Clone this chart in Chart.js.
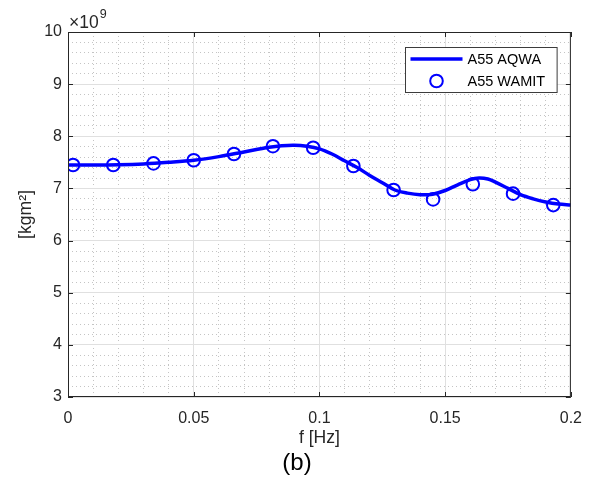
<!DOCTYPE html>
<html>
<head>
<meta charset="utf-8">
<script src="https://cdn.jsdelivr.net/npm/chart.js@4.4.0/dist/chart.umd.min.js"></script>
<style>
    html, body { margin: 0; padding: 0; background: #fff; }
    #wrap { width: 594px; height: 486px; }
</style>
</head>
<body>
<div id="wrap"><canvas id="a55Chart" width="594" height="486"></canvas></div>
<script>
// A55 added mass vs frequency, values in units of 1e9 kgm^2
const aqwaFreq = [0, 0.01, 0.02, 0.03, 0.04, 0.05, 0.06, 0.07, 0.08, 0.085, 0.09, 0.095, 0.1, 0.105, 0.11, 0.115, 0.12, 0.125, 0.13, 0.135, 0.14, 0.145, 0.15, 0.155, 0.16, 0.1635, 0.167, 0.17, 0.175, 0.18, 0.185, 0.19, 0.195, 0.2];
const aqwaA55 = [7.45, 7.45, 7.455, 7.47, 7.50, 7.54, 7.61, 7.70, 7.79, 7.82, 7.83, 7.81, 7.76, 7.66, 7.53, 7.40, 7.25, 7.11, 6.97, 6.91, 6.88, 6.89, 6.96, 7.07, 7.17, 7.20, 7.18, 7.12, 7.00, 6.88, 6.80, 6.74, 6.70, 6.68];

const wamitFreq = [0.002, 0.018, 0.034, 0.050, 0.066, 0.0815, 0.0975, 0.1135, 0.1295, 0.1452, 0.161, 0.177, 0.193];
const wamitA55 = [7.45, 7.45, 7.48, 7.54, 7.66, 7.81, 7.78, 7.43, 6.97, 6.79, 7.08, 6.90, 6.68];

const xTicks = [0, 0.05, 0.1, 0.15, 0.2];
const yTicks = [3, 4, 5, 6, 7, 8, 9, 10];
const yExponent = '9';

const seriesLabels = ['A55 AQWA', 'A55 WAMIT'];

const BLUE = '#0000ff';
const AXIS = '#262626';
const FONT = "'Liberation Sans', Arial, Helvetica, sans-serif";

function toPoints(xs, ys) {
    return xs.map((x, i) => ({ x: x, y: ys[i] }));
}

// box, inward tick marks, exponent label and legend, MATLAB style
const matlabDecor = {
    id: 'matlabDecor',
    afterDraw(chart) {
        const ctx = chart.ctx;
        const area = chart.chartArea;
        const xs = chart.scales.x;
        const ys = chart.scales.y;
        const tick = 5;

        ctx.save();
        ctx.strokeStyle = AXIS;
        ctx.lineWidth = 1;
        ctx.strokeRect(area.left + 0.5, area.top + 0.5, area.right - area.left - 1, area.bottom - area.top - 1);

        ctx.beginPath();
        xTicks.forEach(v => {
            const px = Math.round(xs.getPixelForValue(v)) + 0.5;
            ctx.moveTo(px, area.bottom); ctx.lineTo(px, area.bottom - tick);
            ctx.moveTo(px, area.top); ctx.lineTo(px, area.top + tick);
        });
        yTicks.forEach(v => {
            const py = Math.round(ys.getPixelForValue(v)) + 0.5;
            ctx.moveTo(area.left, py); ctx.lineTo(area.left + tick, py);
            ctx.moveTo(area.right, py); ctx.lineTo(area.right - tick, py);
        });
        ctx.stroke();

        // x10^9
        ctx.fillStyle = AXIS;
        ctx.textBaseline = 'alphabetic';
        ctx.textAlign = 'left';
        ctx.font = '17.5px ' + FONT;
        ctx.fillText('\u00d710', area.left + 1, area.top - 4);
        const w = ctx.measureText('\u00d710').width;
        ctx.font = '12.5px ' + FONT;
        ctx.fillText(yExponent, area.left + 2 + w, area.top - 14);

        // legend
        ctx.font = '14.5px ' + FONT;
        const textW = Math.max(...seriesLabels.map(s => ctx.measureText(s).width));
        const boxW = 62 + textW + 12;
        const boxH = 45;
        const bx = Math.round(area.right - 14 - boxW) + 0.5;
        const by = Math.round(area.top + 15) + 0.5;
        ctx.fillStyle = '#ffffff';
        ctx.fillRect(bx, by, boxW, boxH);
        ctx.strokeStyle = '#3c3c3c';
        ctx.lineWidth = 1;
        ctx.strokeRect(bx, by, boxW, boxH);

        const row1 = by + 11.5;
        const row2 = by + 33.5;
        ctx.strokeStyle = BLUE;
        ctx.lineWidth = 3.5;
        ctx.beginPath();
        ctx.moveTo(bx + 5, row1); ctx.lineTo(bx + 57, row1);
        ctx.stroke();
        ctx.lineWidth = 2;
        ctx.beginPath();
        ctx.arc(bx + 31, row2, 6.3, 0, Math.PI * 2);
        ctx.stroke();

        ctx.fillStyle = '#000';
        ctx.textBaseline = 'middle';
        ctx.fillText(seriesLabels[0], bx + 62, row1 + 0.5);
        ctx.fillText(seriesLabels[1], bx + 62, row2 + 0.5);
        ctx.restore();
    }
};

const ctx = document.getElementById('a55Chart').getContext('2d');
const a55Chart = new Chart(ctx, {
    type: 'scatter',
    data: {
        datasets: [{
            label: seriesLabels[0],
            data: toPoints(aqwaFreq, aqwaA55),
            showLine: true,
            borderColor: BLUE,
            borderWidth: 3.5,
            pointRadius: 0,
            tension: 0.35,
            order: 2
        }, {
            label: seriesLabels[1],
            data: toPoints(wamitFreq, wamitA55),
            showLine: false,
            pointRadius: 6.3,
            pointBorderWidth: 2,
            pointBorderColor: BLUE,
            pointBackgroundColor: 'rgba(0,0,0,0)',
            order: 1
        }]
    },
    options: {
        responsive: false,
        animation: false,
        layout: { padding: { top: 32, right: 0, left: 0, bottom: 0 } },
        plugins: {
            legend: { display: false },
            tooltip: { enabled: false },
            title: {
                display: true,
                position: 'bottom',
                text: '(b)',
                color: '#000',
                font: { family: FONT, size: 24, weight: 'normal' },
                padding: { top: 0, bottom: 8 }
            }
        },
        scales: {
            xMinor: {
                type: 'linear',
                position: 'bottom',
                min: 0, max: 0.2,
                ticks: { display: false, stepSize: 0.01 },
                grid: { color: '#c4c4c4', lineWidth: 1, drawTicks: false },
                border: { display: false, dash: [1, 3] },
                afterFit(scale) { scale.height = 0; }
            },
            yMinor: {
                type: 'linear',
                position: 'left',
                min: 3, max: 10,
                ticks: { display: false, stepSize: 0.2 },
                grid: { color: '#c4c4c4', lineWidth: 1, drawTicks: false },
                border: { display: false, dash: [1, 3] },
                afterFit(scale) { scale.width = 0; }
            },
            yRight: {
                type: 'linear',
                position: 'right',
                min: 3, max: 10,
                ticks: { display: false },
                grid: { display: false, drawTicks: false },
                border: { display: false },
                afterFit(scale) { scale.width = 22; }
            },
            x: {
                type: 'linear',
                position: 'bottom',
                min: 0, max: 0.2,
                afterBuildTicks(scale) { scale.ticks = xTicks.map(v => ({ value: v })); },
                ticks: {
                    color: AXIS,
                    padding: 12,
                    font: { family: FONT, size: 16 },
                    callback: v => String(parseFloat(v.toFixed(3)))
                },
                grid: { color: '#e0e0e0', lineWidth: 1, drawTicks: false },
                border: { display: false },
                title: {
                    display: true,
                    text: 'f [Hz]',
                    color: AXIS,
                    font: { family: FONT, size: 17.6 },
                    padding: { top: 0, bottom: 0 }
                },
                afterFit(scale) { scale.height = 486 - 397 - (24 * 1.2 + 8); }
            },
            y: {
                type: 'linear',
                position: 'left',
                min: 3, max: 10,
                afterBuildTicks(scale) { scale.ticks = yTicks.map(v => ({ value: v })); },
                ticks: {
                    color: AXIS,
                    padding: 6,
                    font: { family: FONT, size: 16 },
                    callback: v => String(v)
                },
                grid: { color: '#e0e0e0', lineWidth: 1, drawTicks: false },
                border: { display: false },
                title: {
                    display: true,
                    text: '[kgm\u00b2]',
                    color: AXIS,
                    font: { family: FONT, size: 17.6 },
                    padding: { top: 16, bottom: 16 }
                },
                afterFit(scale) { scale.width = 68; }
            }
        }
    },
    plugins: [matlabDecor]
});
</script>
</body>
</html>
